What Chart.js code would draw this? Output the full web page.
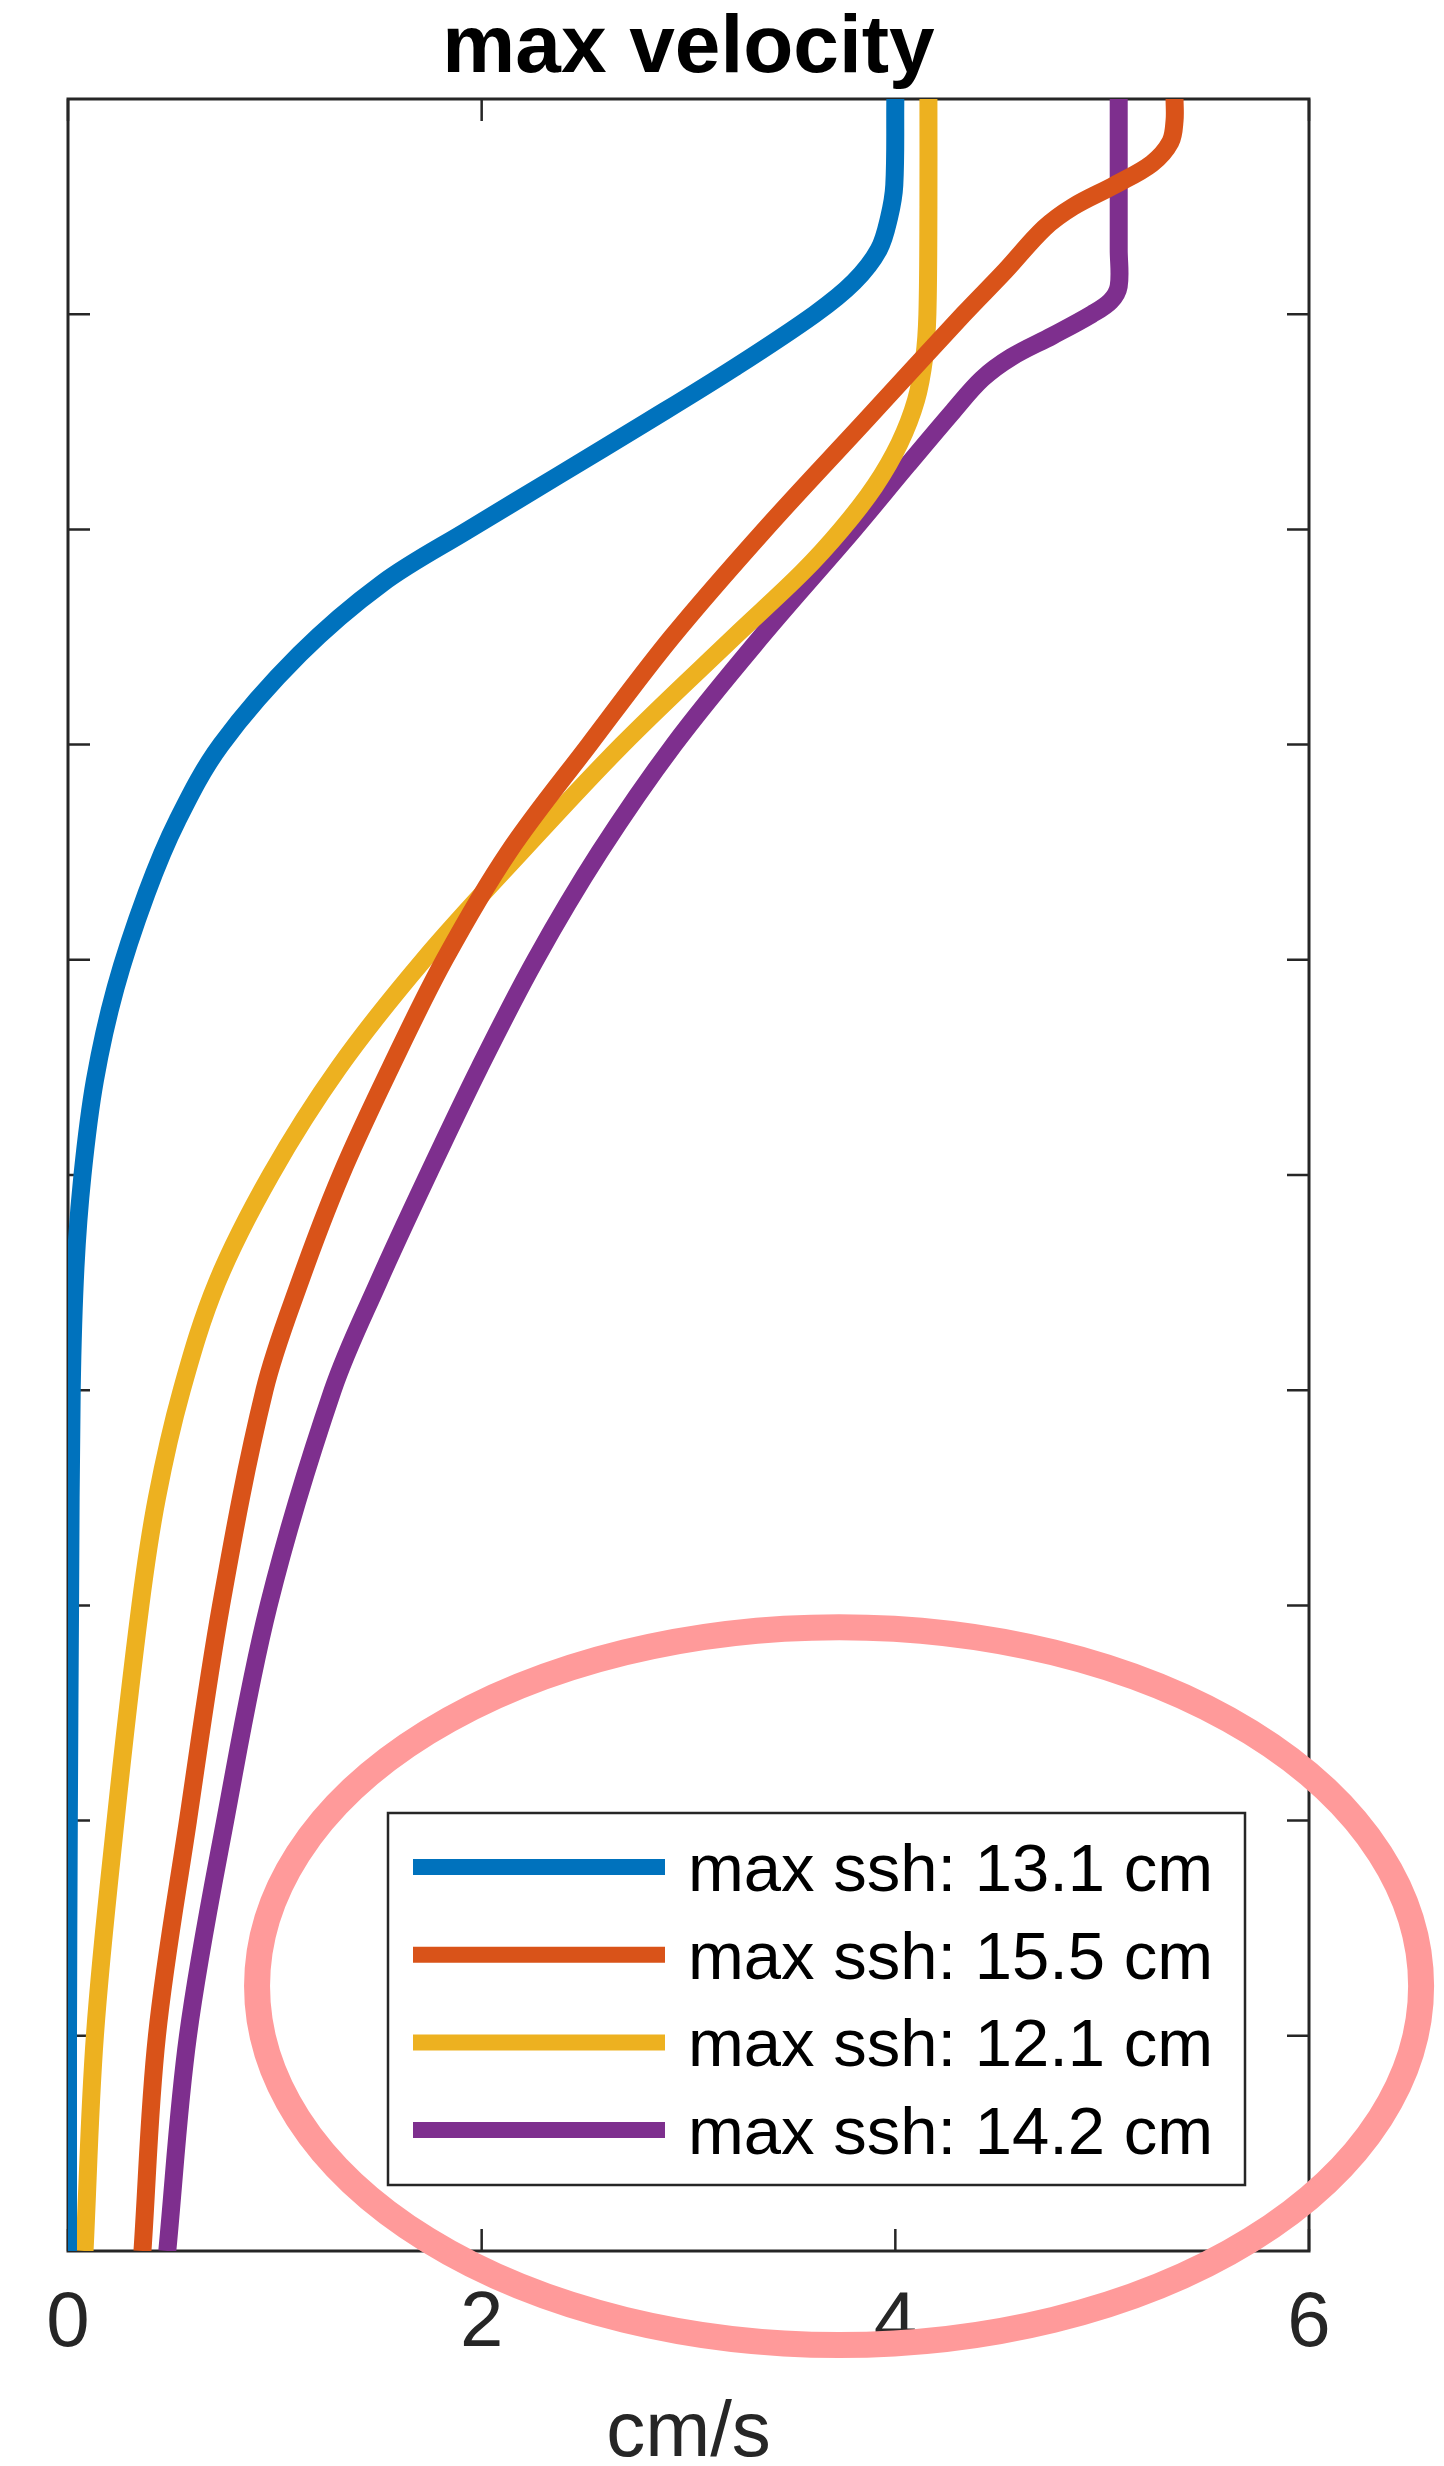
<!DOCTYPE html>
<html>
<head>
<meta charset="utf-8">
<title>max velocity</title>
<script src="https://cdn.jsdelivr.net/npm/chart.js@4.4.1/dist/chart.umd.min.js"></script>
<style>
  html, body { margin: 0; padding: 0; background: #ffffff; }
</style>
</head>
<body>
<canvas id="velocityChart" width="1444" height="2466"></canvas>
<script>
// Series labels and colours (MATLAB default order)
const seriesLabels = ['max ssh: 13.1 cm', 'max ssh: 15.5 cm', 'max ssh: 12.1 cm', 'max ssh: 14.2 cm'];
const seriesColors = ['#0072BD', '#D95319', '#EDB120', '#7E2F8E'];

// Axis ticks
const xTicks = [0, 2, 4, 6];
const yTicks = [1, 2, 3, 4, 5, 6, 7, 8, 9];

// Each profile: vertical level (0 = bottom, 10 = top) and speed in cm/s
const level131 = [0, 1, 2, 3, 4, 4.57, 5.0, 5.44, 5.87, 6.31, 6.65, 7.0, 7.42, 7.75, 8.0, 8.25, 8.5, 8.75, 9.0, 9.15, 9.3, 9.45, 9.6, 10];
const speed131 = [0, 0, 0.004, 0.01, 0.018, 0.036, 0.07, 0.13, 0.23, 0.38, 0.53, 0.74, 1.12, 1.52, 1.94, 2.37, 2.80, 3.22, 3.61, 3.80, 3.92, 3.97, 3.995, 4.0];

const level155 = [0, 1, 2, 3, 4, 4.5, 5, 5.5, 6, 6.5, 7, 7.5, 8, 8.5, 9, 9.2, 9.4, 9.5, 9.6, 9.7, 9.8, 9.9, 10];
const speed155 = [0.36, 0.43, 0.58, 0.74, 0.95, 1.12, 1.32, 1.56, 1.82, 2.13, 2.52, 2.92, 3.37, 3.85, 4.33, 4.53, 4.72, 4.86, 5.06, 5.24, 5.33, 5.35, 5.35];

const level121 = [0, 1, 2, 3, 3.5, 4, 4.5, 5, 5.5, 6, 6.5, 7, 7.5, 7.8, 8.0, 8.2, 8.4, 8.6, 8.8, 9.0, 9.5, 10];
const speed121 = [0.08, 0.13, 0.23, 0.35, 0.43, 0.55, 0.72, 0.98, 1.31, 1.72, 2.19, 2.68, 3.22, 3.55, 3.74, 3.90, 4.02, 4.10, 4.14, 4.155, 4.16, 4.16];

const level142 = [0, 1, 2, 3, 4, 4.5, 5, 5.5, 6, 6.5, 7, 7.5, 8, 8.3, 8.55, 8.7, 8.8, 8.9, 9.0, 9.06, 9.13, 9.3, 10];
const speed142 = [0.48, 0.58, 0.76, 0.97, 1.28, 1.50, 1.74, 1.99, 2.26, 2.57, 2.93, 3.35, 3.80, 4.06, 4.28, 4.42, 4.56, 4.76, 4.95, 5.04, 5.08, 5.08, 5.08];

const levels = [level131, level155, level121, level142];
const speeds = [speed131, speed155, speed121, speed142];

// Hand-drawn highlight around the legend, in data units
const highlight = { cx: 3.728, cy: 1.231, rx: 2.814, ry: 1.668 };

const axisColor = '#262626';
const fontFamily = '"Liberation Sans", Arial, Helvetica, sans-serif';
const lineWidth = 18;

function toPoints(lv, sp) {
    return lv.map((y, i) => ({ x: sp[i], y: y }));
}

// Box around the axes with inward tick marks
const framePlugin = {
    id: 'frame',
    beforeDatasetsDraw(chart) {
        const { ctx, chartArea: a, scales: { x, y } } = chart;
        const tickLen = 22;
        ctx.save();
        ctx.strokeStyle = axisColor;
        ctx.lineWidth = 2.5;
        ctx.beginPath();
        xTicks.forEach(v => {
            const px = x.getPixelForValue(v);
            ctx.moveTo(px, a.bottom);
            ctx.lineTo(px, a.bottom - tickLen);
            ctx.moveTo(px, a.top);
            ctx.lineTo(px, a.top + tickLen);
        });
        yTicks.forEach(v => {
            const py = y.getPixelForValue(v);
            ctx.moveTo(a.left, py);
            ctx.lineTo(a.left + tickLen, py);
            ctx.moveTo(a.right, py);
            ctx.lineTo(a.right - tickLen, py);
        });
        ctx.stroke();
        ctx.lineWidth = 3;
        ctx.strokeRect(a.left, a.top, a.right - a.left, a.bottom - a.top);
        ctx.restore();
    }
};

// Boxed legend in the lower right of the axes
const legendBoxPlugin = {
    id: 'legendBox',
    afterDatasetsDraw(chart) {
        const { ctx, chartArea: a } = chart;
        const w = 857, h = 372;
        const right = a.right - 64, bottom = a.bottom - 66;
        const left = right - w, top = bottom - h;
        ctx.save();
        ctx.fillStyle = '#ffffff';
        ctx.fillRect(left, top, w, h);
        ctx.strokeStyle = axisColor;
        ctx.lineWidth = 2.5;
        ctx.strokeRect(left, top, w, h);
        ctx.font = '67px ' + fontFamily;
        ctx.textBaseline = 'alphabetic';
        ctx.textAlign = 'left';
        chart.data.datasets.forEach((ds, i) => {
            const cy = top + 54 + i * 87.7;
            ctx.strokeStyle = ds.borderColor;
            ctx.lineWidth = 16;
            ctx.beginPath();
            ctx.moveTo(left + 25, cy);
            ctx.lineTo(left + 277, cy);
            ctx.stroke();
            ctx.fillStyle = '#000000';
            ctx.fillText(ds.label, left + 300, cy + 24);
        });
        ctx.restore();
    }
};

// Pink ellipse drawn over everything
const highlightPlugin = {
    id: 'highlight',
    afterDraw(chart) {
        const { ctx, scales: { x, y } } = chart;
        const cx = x.getPixelForValue(highlight.cx);
        const cy = y.getPixelForValue(highlight.cy);
        const rx = x.getPixelForValue(highlight.cx + highlight.rx) - cx;
        const ry = cy - y.getPixelForValue(highlight.cy + highlight.ry);
        ctx.save();
        ctx.strokeStyle = '#FF9A9A';
        ctx.lineWidth = 26;
        ctx.beginPath();
        ctx.ellipse(cx, cy, rx, ry, 0, 0, Math.PI * 2);
        ctx.stroke();
        ctx.restore();
    }
};

const ctx = document.getElementById('velocityChart').getContext('2d');
new Chart(ctx, {
    type: 'line',
    data: {
        datasets: seriesLabels.map((label, i) => ({
            label: label,
            data: toPoints(levels[i], speeds[i]),
            borderColor: seriesColors[i],
            backgroundColor: seriesColors[i],
            borderWidth: lineWidth,
            borderJoinStyle: 'round',
            pointRadius: 0,
            fill: false,
            tension: 0.35
        }))
    },
    options: {
        responsive: false,
        animation: false,
        indexAxis: 'y',
        layout: {
            padding: { left: 68, right: 135, top: 0, bottom: 0 }
        },
        plugins: {
            legend: { display: false },
            tooltip: { enabled: false },
            title: {
                display: true,
                text: 'max velocity',
                color: '#000000',
                font: { family: fontFamily, size: 82, weight: 'bold', lineHeight: 1 },
                padding: { top: 8, bottom: 9 }
            }
        },
        scales: {
            x: {
                type: 'linear',
                min: 0,
                max: 6,
                grid: { display: false, drawTicks: false },
                border: { display: false },
                ticks: {
                    stepSize: 2,
                    padding: 27,
                    color: axisColor,
                    font: { family: fontFamily, size: 78 }
                },
                title: {
                    display: true,
                    text: 'cm/s',
                    color: axisColor,
                    font: { family: fontFamily, size: 78, lineHeight: 0.8 },
                    padding: { top: 5, bottom: 0 }
                }
            },
            y: {
                type: 'linear',
                min: 0,
                max: 10,
                display: false
            }
        }
    },
    plugins: [framePlugin, legendBoxPlugin, highlightPlugin]
});
</script>
</body>
</html>
